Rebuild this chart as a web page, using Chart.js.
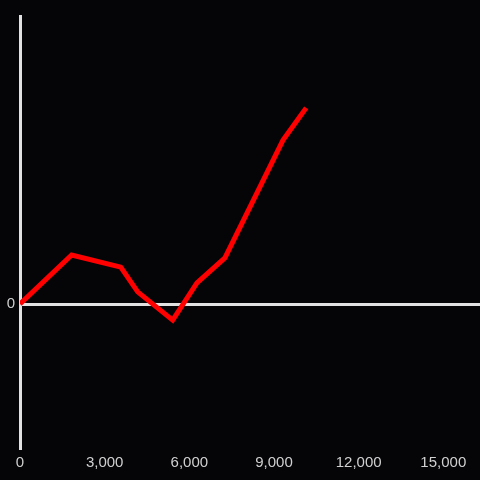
<!DOCTYPE html>
<html>
<head>
<meta charset="utf-8">
<script src="https://cdn.jsdelivr.net/npm/chart.js@4/dist/chart.umd.min.js"></script>
<style>
  html, body { margin: 0; padding: 0; background: #050407; }
  canvas { display: block; }
</style>
</head>
<body>
<canvas id="chart" width="480" height="480"></canvas>
<script>
// data
const xValues = [0, 1830, 3570, 4170, 5410, 6270, 7260, 9320, 10140];
const yValues = [0, 17.0, 12.8, 4.2, -5.6, 7.3, 16.0, 56.9, 68.1];
const xTicks = [0, 3000, 6000, 9000, 12000, 15000];

const axisColor = '#e2e2e2';
const labelColor = '#d0d0d0';

const ctx = document.getElementById('chart').getContext('2d');
const chart = new Chart(ctx, {
  type: 'line',
  data: {
    datasets: [{
      data: xValues.map((x, i) => ({ x: x, y: yValues[i] })),
      borderColor: '#ff0000',
      borderWidth: 5,
      pointRadius: 0,
      tension: 0,
      fill: false
    }]
  },
  options: {
    responsive: false,
    animation: false,
    layout: { padding: { top: 16, right: 0, left: 0, bottom: 0 } },
    plugins: { legend: { display: false }, tooltip: { enabled: false } },
    scales: {
      x: {
        type: 'linear',
        min: 0,
        max: 16300,
        afterFit: s => { s.height = 32; },
        afterBuildTicks: s => { s.ticks = xTicks.map(v => ({ value: v })); },
        grid: { display: false, drawTicks: false },
        border: { display: false },
        ticks: {
          color: labelColor,
          padding: 6,
          maxRotation: 0,
          autoSkip: false,
          font: { family: 'Liberation Sans', size: 15 },
          callback: v => v.toLocaleString('en-US')
        }
      },
      y: {
        min: -50,
        max: 100,
        afterFit: s => { s.width = 20; },
        afterBuildTicks: s => { s.ticks = [{ value: 0 }]; },
        grid: {
          drawTicks: false,
          color: axisColor,
          lineWidth: 3
        },
        border: { display: true, color: axisColor, width: 3 },
        ticks: {
          color: labelColor,
          padding: 5,
          font: { family: 'Liberation Sans', size: 15 }
        }
      }
    }
  }
});
</script>
</body>
</html>
